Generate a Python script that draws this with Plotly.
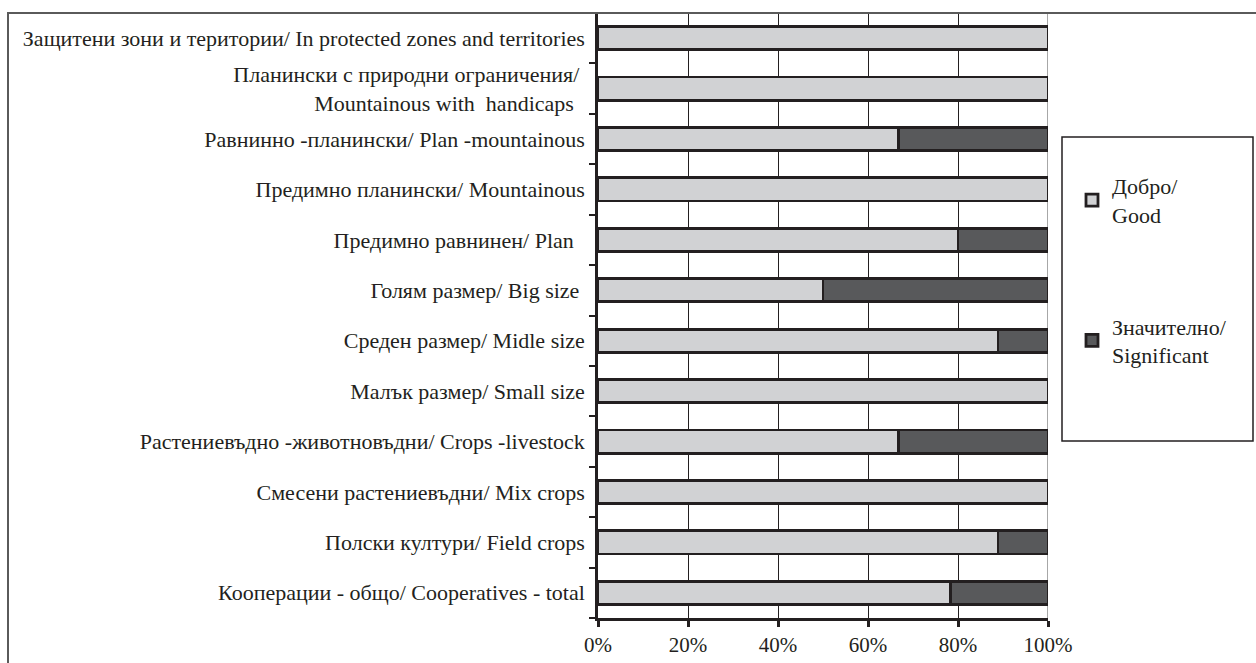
import plotly.graph_objects as go

categories = [
    "Кооперации - общо/ Cooperatives - total",
    "Полски култури/ Field crops",
    "Смесени растениевъдни/ Mix crops",
    "Растениевъдно -животновъдни/ Crops -livestock",
    "Малък размер/ Small size",
    "Среден размер/ Midle size",
    "Голям размер/ Big size\u00a0",
    "Предимно равнинен/ Plan\u00a0\u00a0",
    "Предимно планински/ Mountainous",
    "Равнинно -планински/ Plan -mountainous",
    "Планински с природни ограничения/\u00a0<br>Mountainous with\u00a0 handicaps\u00a0\u00a0",
    "Защитени зони и територии/ In protected zones and territories",
]
good = [78.3, 88.9, 100, 66.7, 100, 88.9, 50, 80, 100, 66.7, 100, 100]
significant = [21.7, 11.1, 0, 33.3, 0, 11.1, 50, 20, 0, 33.3, 0, 0]
series_names = ["Добро/<br>Good", "Значително/<br>Significant"]
x_ticks = [0, 20, 40, 60, 80, 100]
x_tick_labels = ["0%", "20%", "40%", "60%", "80%", "100%"]

FONT = "Liberation Serif"
INK = "#231f20"

fig = go.Figure()
fig.add_trace(go.Bar(
    y=categories, x=good, orientation="h", name=series_names[0],
    marker=dict(color="#d1d2d4", line=dict(color=INK, width=2.8)),
    legendgroup="g1",
))
fig.add_trace(go.Bar(
    y=categories, x=significant, orientation="h", name=series_names[1],
    marker=dict(color="#58595b", line=dict(color=INK, width=2.8)),
    legendgroup="g2",
))

W, H = 1256, 663
L, R, T, B = 598, 208, 13, 45
pw, ph = W - L - R, H - T - B

def px_x(px):
    return (px - L) / pw

def px_y(py):
    return (H - B - py) / ph

fig.update_layout(
    width=W, height=H,
    margin=dict(l=L, r=R, t=T, b=B, autoexpand=False),
    paper_bgcolor="white", plot_bgcolor="white",
    barmode="stack", bargap=0.54,
    font=dict(family=FONT, size=22, color=INK),
    showlegend=True,
    legend=dict(
        x=px_x(1072), y=px_y(165), xanchor="left", yanchor="top",
        traceorder="grouped", tracegroupgap=80,
        font=dict(family=FONT, size=22, color=INK),
        bgcolor="rgba(0,0,0,0)", itemwidth=30,
    ),
    xaxis=dict(
        range=[0, 100], tickvals=x_ticks, ticktext=x_tick_labels,
        showgrid=True, gridcolor=INK, gridwidth=1.3,
        showline=True, linecolor=INK, linewidth=2.5,
        ticks="outside", ticklen=6, tickwidth=2.5, tickcolor=INK,
        zeroline=False, fixedrange=True, automargin=False,
        tickfont=dict(family=FONT, size=21, color=INK),
    ),
    yaxis=dict(
        categoryorder="array", categoryarray=categories,
        showline=True, linecolor=INK, linewidth=2.5,
        ticks="outside", tickson="boundaries", ticklen=6, tickwidth=1.5, tickcolor=INK,
        showgrid=False, zeroline=False, fixedrange=True, automargin=False,
        ticklabelstandoff=6,
        tickfont=dict(family=FONT, size=22, color=INK),
    ),
    shapes=[
        dict(type="line", xref="x", yref="paper", x0=100, x1=100, y0=0, y1=1,
             line=dict(color="#8a8a8a", width=1.5), layer="between"),
        dict(type="rect", xref="paper", yref="paper",
             x0=px_x(8), x1=px_x(1300), y0=px_y(700), y1=px_y(13),
             line=dict(color="#5a5a5a", width=2), fillcolor="rgba(0,0,0,0)", layer="above"),
        dict(type="rect", xref="paper", yref="paper",
             x0=px_x(1062), x1=px_x(1253), y0=px_y(441), y1=px_y(137),
             line=dict(color=INK, width=1.5), fillcolor="rgba(0,0,0,0)", layer="above"),
    ],
)

fig.write_html(
    "out.html",
    config={"displayModeBar": False},
    post_script="document.body.style.margin='0';document.body.style.overflow='hidden';",
)
